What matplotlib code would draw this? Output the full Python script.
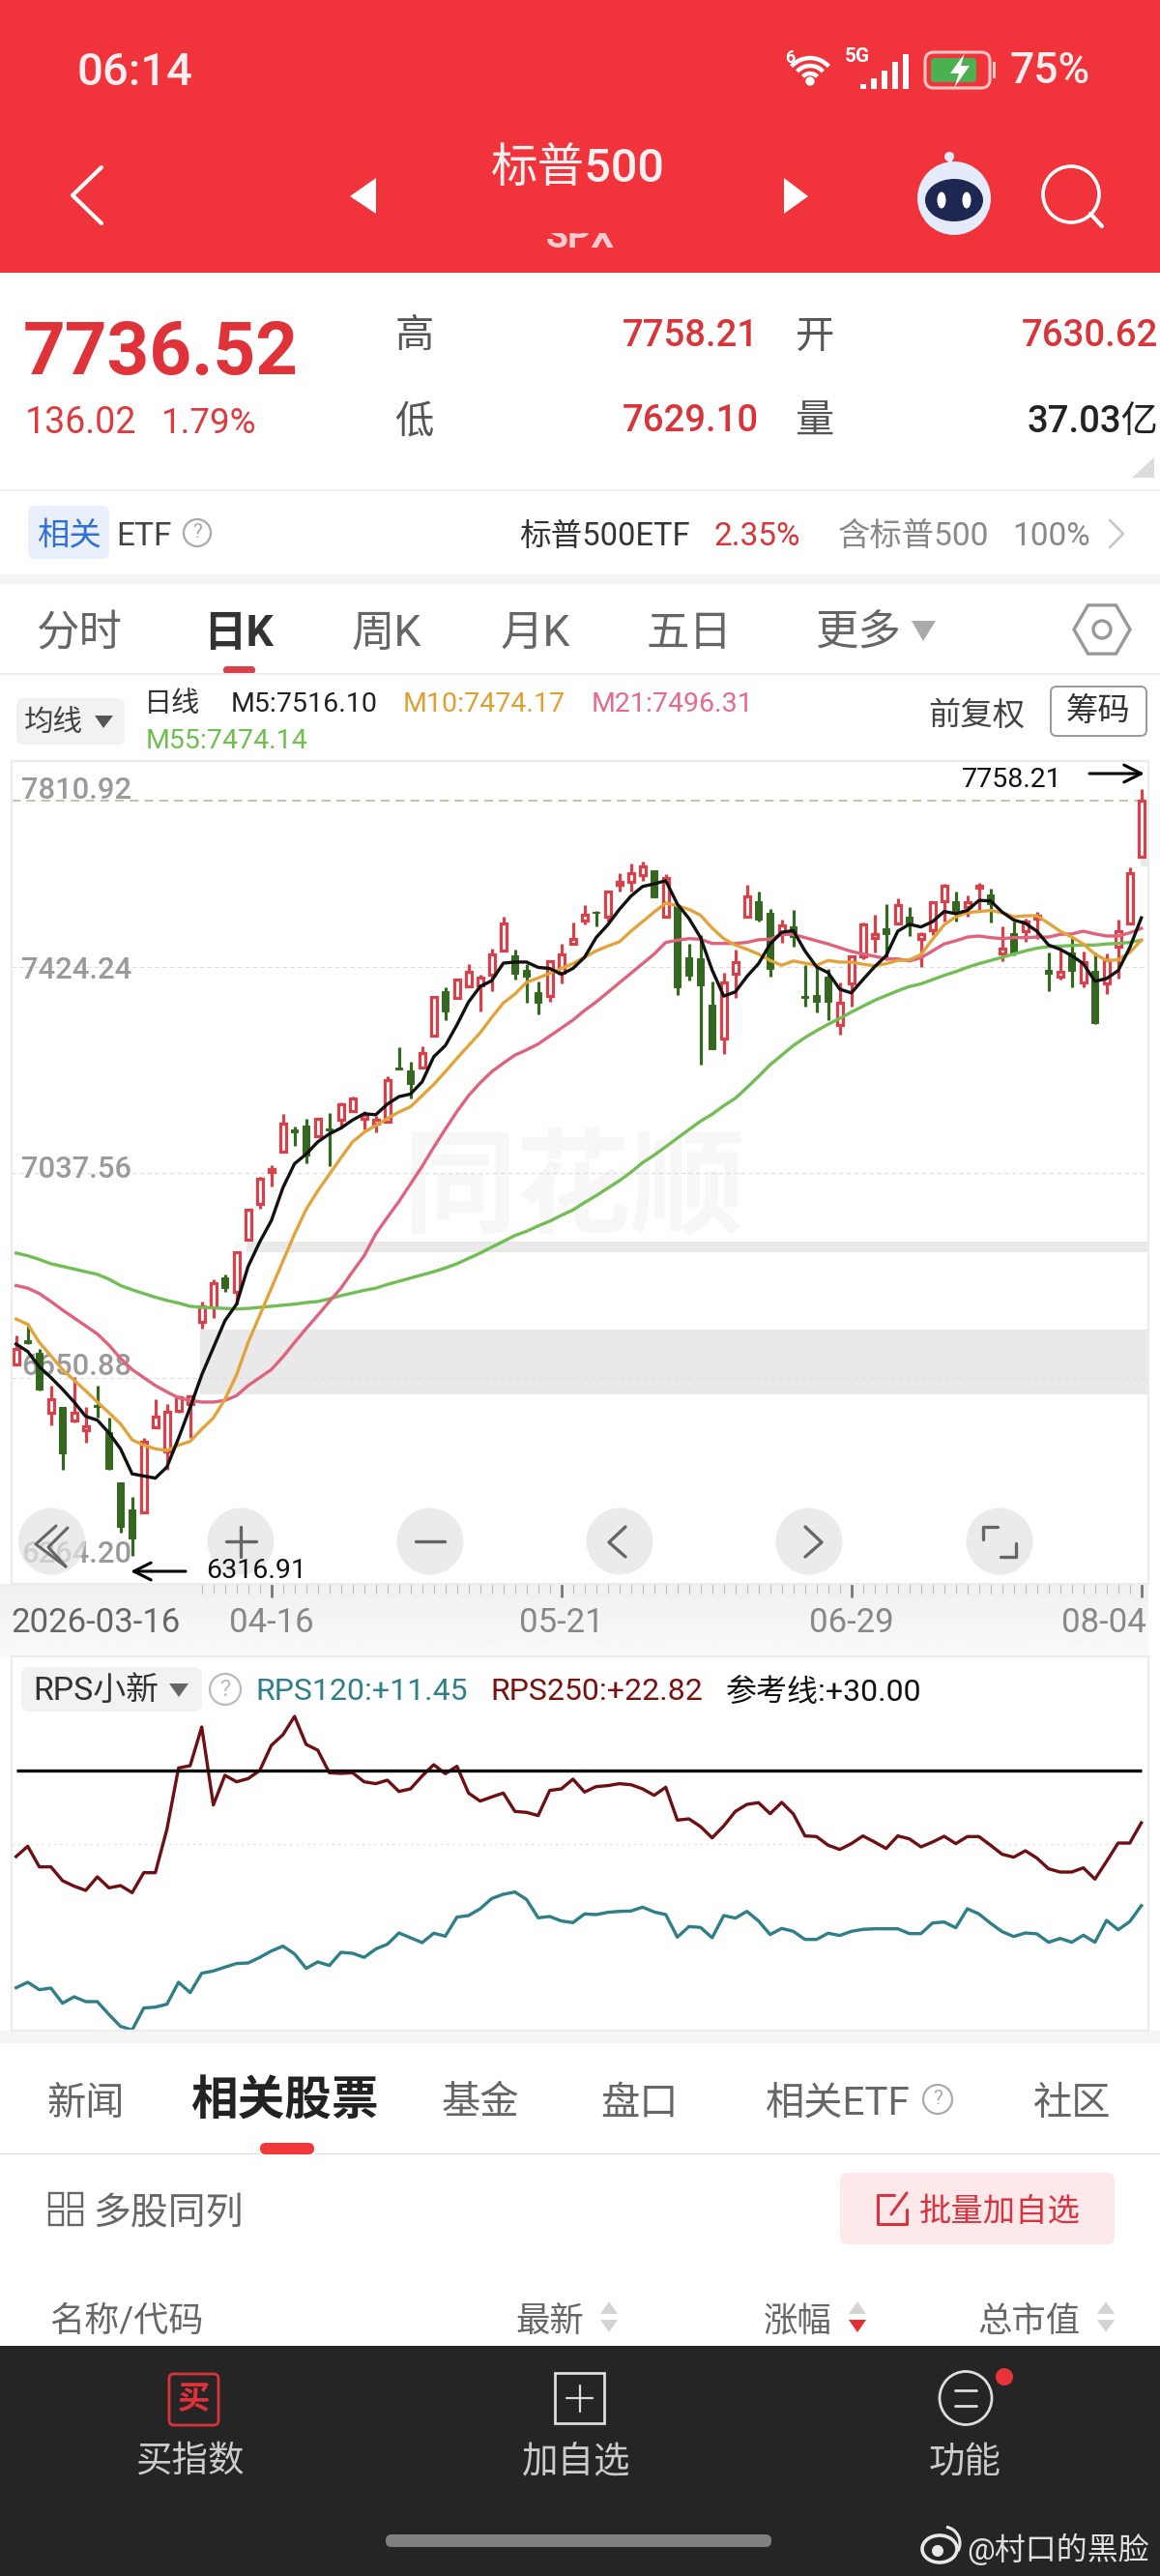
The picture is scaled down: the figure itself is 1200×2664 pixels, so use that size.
import numpy as np
import matplotlib
matplotlib.use('Agg')
import matplotlib.pyplot as plt
from matplotlib.patches import Rectangle, FancyBboxPatch, Circle, Ellipse, Polygon, Arc, RegularPolygon
from matplotlib.transforms import ScaledTranslation

plt.rcParams['font.family'] = ['Roboto', 'Noto Sans CJK SC', 'DejaVu Sans']
plt.rcParams['axes.unicode_minus'] = False

# ---------- data ----------
opens = [6676,6723,6698,6586,6596,6572,6554,6601,6550,6455,6405,6399,6558,6514,6589,6603,6756,6784,6841,6813,
         6912,6978,7039,7077,7119,7125,7105,7121,7136,7153,7139,7129,7133,7235,7229,7235,7295,7379,7365,7387,
         7389,7409,7454,7445,7419,7376,7369,7412,7467,7511,7527,7518,7579,7583,7597,7605,7518,7539,7442,7441,
         7352,7290,7411,7518,7548,7526,7488,7500,7369,7371,7405,7314,7393,7444,7479,7497,7506,7518,7477,7492,
         7548,7548,7536,7572,7560,7450,7488,7491,7515,7418,7406,7451,7395,7417,7393,7462,7506,7630.62]
highs = [6731,6754,6705,6637,6596,6654,6596,6637,6576,6455,6428,6538,6611,6603,6619,6619,6795,6837,6846,6890,
         6970,7029,7052,7147,7123,7138,7141,7149,7170,7180,7153,7143,7219,7273,7246,7274,7369,7385,7402,7429,
         7410,7459,7518,7456,7430,7396,7436,7467,7507,7540,7530,7568,7600,7618,7622,7606,7598,7539,7468,7483,
         7397,7412,7456,7579,7565,7533,7512,7531,7427,7424,7420,7394,7445,7508,7522,7542,7553,7536,7489,7548,
         7580,7565,7559,7582,7571,7500,7509,7515,7527,7451,7460,7479,7453,7451,7450,7512,7611,7758.21]
lows = [6676,6715,6627,6562,6479,6568,6530,6576,6479,6360,6316.91,6399,6558,6479,6586,6538,6744,6764,6813,6790,
        6910,6970,7012,7075,7088,7054,7103,7049,7121,7151,7119,7113,7131,7232,7176,7234,7294,7323,7364,7385,
        7341,7378,7453,7400,7356,7335,7359,7393,7465,7503,7501,7510,7565,7565,7585,7554,7517,7371,7398,7240,
        7269,7260,7365,7517,7510,7406,7470,7462,7350,7339,7324,7296,7350,7439,7451,7436,7504,7482,7423,7484,
        7510,7509,7518,7528,7507,7434,7445,7471,7477,7378,7400,7385,7386,7317,7373,7402,7505,7629.10]
closes = [6705,6717,6630,6611,6509,6586,6560,6597,6481,6372,6349,6532,6579,6587,6615,6617,6786,6830,6820,6888,
          6968,7026,7044,7129,7113,7070,7139,7116,7166,7176,7146,7136,7212,7232,7203,7262,7367,7341,7400,7414,
          7403,7447,7505,7411,7405,7356,7435,7448,7477,7522,7525,7566,7583,7600,7612,7554,7591,7385,7408,7389,
          7269,7395,7433,7556,7513,7421,7502,7480,7365,7359,7359,7356,7444,7503,7486,7486,7540,7506,7486,7545,
          7577,7526,7545,7577,7542,7459,7450,7509,7521,7411,7414,7417,7433,7318,7437,7491,7600.5,7736.52]

m5 = [6715,6701,6672,6652,6630,6606,6579,6572,6548,6518,6471,6467,6463,6484,6538,6596,6657,6708,6759,6790,
      6861,6907,6947,7009,7054,7072,7095,7110,7121,7136,7148,7146,7166,7180,
      7185,7208,7255,7276,7315,7358,7387,7398,7431,7433,7433,7423,7421,7410,7421,7442,7479,7503,7532,7557,
      7575,7580,7586,7542,7515,7479,7418,7369,7377,7406,7430,7467,
      7489,7492,7454,7424,7413,7382,7375,7400,7424,7445,7491,7504,7499,7509,7528,7524,7530,7549,7548,7527,
      7512,7506,7491,7465,7457,7445,7430,7397,7402,7417,7460,7516.10]
m10 = [6762,6752,6718,6693,6667,6647,6627,6606,6586,6565,6535,6525,6518,6515,6525,6532,6555,6576,6611,6657,
       6718,6769,6820,6871,6922,6968,7003,7034,7065,7095,7113,7126,7139,7151,
       7161,7182,7203,7227,7252,7276,7300,7329,7356,7373,7395,7403,7412,7421,7430,7442,7454,7463,7471,7491,
       7509,7527,7544,7539,7532,7521,7497,7477,7465,7457,7448,7436,
       7427,7435,7431,7427,7436,7433,7433,7429,7426,7430,7436,7437,7447,7476,7503,7518,7526,7528,7530,7526,
       7518,7520,7520,7506,7491,7480,7467,7448,7436,7437,7451,7474.17]
m21 = [6825,6820,6810,6795,6779,6764,6749,6734,6713,6688,6667,6652,6637,6625,6614,6609,6606,6606,6609,6618,
       6637,6652,6667,6691,6718,6744,6769,6795,6820,6851,6881,6922,6953,6983,
       7016,7049,7085,7119,7152,7182,7206,7227,7243,7258,7268,7279,7294,7309,7324,7342,7358,7376,7394,7412,
       7430,7448,7470,7474,7477,7476,7468,7468,7468,7470,7475,7476,
       7485,7485,7479,7473,7467,7460,7453,7448,7444,7439,7439,7435,7441,7454,7467,7473,7480,7482,7479,7477,
       7479,7479,7480,7480,7485,7486,7491,7486,7482,7482,7488,7496.31]
m55 = [6886,6881,6874,6866,6861,6856,6851,6846,6837,6825,6817,6810,6803,6797,6792,6786,6784,6783,6782,6781,
       6782,6784,6786,6788,6790,6793,6795,6800,6806,6811,6816,6820,6827,6833,
       6839,6845,6851,6858,6866,6876,6886,6897,6908,6919,6927,6937,6946,6957,6967,6981,6994,7008,7022,7038,
       7056,7070,7086,7102,7118,7134,7147,7163,7177,7197,7218,7240,
       7258,7276,7291,7304,7316,7327,7339,7350,7361,7370,7379,7387,7392,7400,7408,7415,7423,7430,7436,7442,
       7448,7454,7459,7462,7463,7464,7465,7465,7467,7468,7470,7474.14]

rps250 = [18.19,19.6,16.77,16.77,14.87,14.12,13.54,15.4,13.89,14.2,13.23,15.97,15.97,21.95,30.35,30.66,35.97,25.27,29.34,28.45,
          28.89,30,33.45,34.91,37.43,33.58,32.79,29.69,29.6,29.69,28.45,28.19,28.67,27.12,27.48,29.25,30.8,29.56,30.58,26.9,
          25.8,26.37,26.9,24.38,24.25,23.81,27.26,27.48,28.81,27.04,27.79,27.92,28.19,28.05,27.48,26.59,27.7,23.19,23.36,22.3,
          20.75,22.39,24.38,25.35,25.58,24.07,25.62,24.03,21.02,20.93,19.74,19.16,19.96,21.02,20.18,19.29,21.02,20.62,19.51,20.18,
          20.97,19.96,20.93,20.93,19.74,18.5,18.1,18.98,17.97,16.51,16.06,16.06,16.64,15.09,17.52,20.04,20.04,22.82]
rps120 = [0.18,0.93,-0.09,0.13,-1.95,-1.06,-1.73,-1.73,-3.49,-5.13,-5.62,-2.61,-2.48,-2.08,0.93,-0.49,2.17,2.48,3.01,3.5,
          3.58,4.34,5.22,5.89,4.82,2.83,3.72,3.23,5.04,4.91,4.34,5.49,6.15,7.7,7.04,6.37,7.66,7.26,9.87,10.09,
          11.02,12.43,13.01,13.32,12.3,9.78,9.96,9.34,9.12,10.31,10.22,10.53,10.66,10.71,11.24,10.58,10.22,7.12,8.58,8.45,
          7.04,10.09,9.74,10.66,9.34,7.48,8.32,7.92,6.81,6.81,7.66,7.35,7.92,8.19,8.27,8.27,8.27,7.61,7.61,9.07,
          9.2,8.41,11.02,10.31,9.03,7.88,7.21,7.7,7.57,6.42,6.95,6.42,7.39,6.42,9.43,8.14,9.25,11.45]
ref_value = 30.0

price_ticks = [7810.92, 7424.24, 7037.56, 6650.88, 6264.20]
price_label_shift_px = [-30, -4, 3, 12, 30]
date_idx = [0, 22, 47, 72, 97]
date_labels = ['2026-03-16', '04-16', '05-21', '06-29', '08-04']
last_price = 7736.52
high_price = 7758.21
low_price = 6316.91
band_ranges = [(20, 6888, 6907), (16, 6621, 6742), (97, 7612, 7629)]

RED = '#d9404a'
GREEN = '#33691e'
W, H = 1200, 2664

fig = plt.figure(figsize=(12, 26.64), dpi=100, facecolor='white')


def px_axes(z):
    a = fig.add_axes([0, 0, 1, 1], zorder=z)
    a.set_xlim(0, W)
    a.set_ylim(H, 0)
    a.axis('off')
    a.patch.set_alpha(0)
    return a


bg = px_axes(0)
fg = px_axes(10)


def T(a, x, y, s, size, color='#333333', ha='left', va='center', weight='normal', **kw):
    if a in (bg, fg):
        y = y + 8
        if ha == 'left' and ord(s[0]) > 127:
            x = x - 2.5
    return a.text(x, y, s, fontsize=size, color=color, ha=ha, va=va, fontweight=weight, **kw)


def R(a, x0, y0, x1, y1, color, **kw):
    a.add_patch(Rectangle((x0, y0), x1 - x0, y1 - y0, facecolor=color, edgecolor='none', **kw))


def RR(a, x0, y0, x1, y1, face, edge='none', lw=0, rad=8, **kw):
    a.add_patch(FancyBboxPatch((x0 + rad, y0 + rad), x1 - x0 - 2 * rad, y1 - y0 - 2 * rad,
                               boxstyle=f'round,pad={rad},rounding_size={rad}',
                               facecolor=face, edgecolor=edge, linewidth=lw, **kw))


def L(a, xs, ys, color, lw=2.2, **kw):
    a.plot(xs, ys, color=color, lw=lw, solid_capstyle='round', solid_joinstyle='round', **kw)


def TRI(a, pts, color):
    a.add_patch(Polygon(pts, closed=True, facecolor=color, edgecolor='none'))


def Q(a, cx, cy, r=14, color='#aaaaaa', size=15):
    a.add_patch(Circle((cx, cy), r, facecolor='none', edgecolor=color, lw=1.6))
    T(a, cx, cy - 8, '?', size, color, ha='center')


# ---------- header ----------
R(bg, 0, 0, W, 282, '#f1333b')
T(bg, 80, 67, '06:14', 34, '#fbeeee', weight='medium')
for w_ in (52, 36, 20):
    bg.add_patch(Arc((838, 86), w_, w_, theta1=222, theta2=318, color='white', lw=3.2))
bg.add_patch(Circle((838, 84), 4, color='white'))
T(bg, 812, 52, '6', 13, 'white', weight='bold')
T(bg, 874, 50, '5G', 15, 'white', weight='bold')
for i_, h_ in enumerate((5, 11, 19, 28, 36)):
    R(bg, 890 + 11 * i_, 92 - h_, 896 + 11 * i_, 92, 'white')
RR(bg, 957, 54, 1024, 91, 'none', edge='#ffc8c8', lw=2.2, rad=9)
R(bg, 1027, 64, 1030, 81, '#ffc8c8')
RR(bg, 963, 60, 1010, 85, '#4caf50', rad=4)
TRI(bg, [(998, 55), (983, 76), (992, 76), (987, 91), (1003, 68), (994, 68)], 'white')
T(bg, 1045, 66, '75%', 32, '#fbeeee', weight='medium')
L(bg, [105, 75, 105], [173, 202, 231], 'white', lw=3)
TRI(bg, [(389, 184), (362, 203), (389, 221)], 'white')
TRI(bg, [(811, 184), (836, 203), (811, 221)], 'white')
T(bg, 598, 168, '标普500', 35, '#fdf0f0', ha='center', weight='medium')
T(bg, 600, 237, 'SPX', 27, 'white', ha='center', alpha=0.75, weight='bold')
R(bg, 540, 225, 660, 241, '#f1333b', zorder=5)
bg.add_patch(Circle((987, 205), 38, facecolor='#e4ebfb', edgecolor='none'))
bg.add_patch(Ellipse((987, 207), 60, 44, facecolor='#1d2750', edgecolor='none'))
bg.add_patch(Ellipse((974, 207), 9, 17, facecolor='white', edgecolor='none'))
bg.add_patch(Ellipse((1000, 207), 9, 17, facecolor='white', edgecolor='none'))
L(bg, [985, 982], [160, 170], '#e4ebfb', lw=2.5)
bg.add_patch(Circle((982, 162), 5, facecolor='#e4ebfb', edgecolor='none'))
bg.add_patch(Circle((1108, 201), 29, facecolor='none', edgecolor='white', lw=2.6))
L(bg, [1128, 1140], [221, 234], 'white', lw=3)

# ---------- quote ----------
T(bg, 24, 358, '7736.52', 55, '#e03239', weight='bold')
T(bg, 26, 430, '136.02', 27, '#e03a3f')
T(bg, 167, 430, '1.79%', 26.5, '#e03a3f')
T(bg, 411, 339, '高', 29, '#555555')
T(bg, 411, 428, '低', 29, '#555555')
T(bg, 644, 340, '7758.21', 27.5, '#d8343a', weight='medium')
T(bg, 644, 428, '7629.10', 27.5, '#d8343a', weight='medium')
T(bg, 825, 340, '开', 29, '#555555')
T(bg, 825, 428, '量', 29, '#555555')
T(bg, 1198, 340, '7630.62', 27.5, '#d8343a', ha='right', weight='medium')
T(bg, 1198, 428, '37.03亿', 27.5, '#222222', ha='right', weight='medium')
TRI(bg, [(1194, 473), (1194, 494), (1171, 494)], '#dcdcdc')
R(bg, 0, 506, W, 508, '#eeeeee')

# ---------- ETF row ----------
RR(bg, 29, 523, 113, 578, '#e9effb', rad=7)
T(bg, 71, 547, '相关', 24, '#2f6fd6', ha='center')
T(bg, 120, 547, 'ETF', 24, '#444444')
Q(bg, 204, 551)
T(bg, 540, 547, '标普500ETF', 23.5, '#333333')
T(bg, 739, 547, '2.35%', 24, '#d8343a')
T(bg, 869, 547, '含标普500', 24, '#888888')
T(bg, 1047, 547, '100%', 24, '#888888')
L(bg, [1148, 1162, 1148], [538, 552, 566], '#c4c4c4', lw=1.8)
R(bg, 0, 594, W, 604, '#f5f5f5')

# ---------- period tabs ----------
for x_, s_ in ((40, '分时'), (366, '周K'), (520, '月K'), (671, '五日'), (846, '更多')):
    T(bg, x_, 648, s_, 32, '#666666')
T(bg, 213, 648, '日K', 32, '#333333', weight='bold')
TRI(bg, [(943, 642), (968, 642), (955, 663)], '#aaaaaa')
bg.add_patch(RegularPolygon((1140, 651), 6, radius=29, orientation=np.pi / 6, facecolor='none',
                            edgecolor='#999999', lw=2.4))
bg.add_patch(Circle((1140, 651), 9, facecolor='none', edgecolor='#999999', lw=2.4))
RR(bg, 231, 689, 264, 697, RED, rad=4)
R(bg, 0, 696, W, 698, '#eeeeee')

# ---------- MA legend ----------
RR(bg, 17, 722, 129, 770, '#f2f2f2', rad=7)
T(bg, 27, 739, '均线', 22, '#444444')
TRI(bg, [(98, 740), (117, 740), (107, 753)], '#555555')
T(bg, 151, 720, '日线', 21, '#333333')
T(bg, 239, 720, 'M5:7516.10', 20.5, '#222222')
T(bg, 417, 720, 'M10:7474.17', 20.5, '#e0a030')
T(bg, 612, 720, 'M21:7496.31', 20.5, '#e8698a')
T(bg, 151, 759, 'M55:7474.14', 20.5, '#6fbf4f')
T(bg, 963, 733, '前复权', 24, '#444444')
RR(bg, 1087, 710, 1186, 761, 'white', edge='#999999', lw=1.4, rad=6)
T(bg, 1136, 728, '筹码', 24, '#333333', ha='center')

# background between panels
grad = np.linspace(0.94, 0.98, 60).reshape(-1, 1)
bg.imshow(grad, extent=(0, 1188, 1713, 1638), cmap='gray', vmin=0, vmax=1, aspect='auto', zorder=0.5)
bg.set_xlim(0, W)
bg.set_ylim(H, 0)
R(bg, 0, 2100, W, 2113, '#f5f5f5')

# ---------- main chart ----------
xleft = (12 - 16.7) / 12
xright = (1188 - 16.7) / 12
ax = fig.add_axes([12 / W, (H - 1638) / H, 1176 / W, 851 / H], zorder=1)
ax.set_xlim(xleft, xright)
ax.set_ylim(price_ticks[-1], price_ticks[0])
for s in ax.spines.values():
    s.set_color('#ececec')
    s.set_linewidth(1.6)
ax.set_yticks([])
ax.set_xticks(date_idx)
ax.set_xticklabels(date_labels, fontsize=25, color='#888888')
ax.set_xticks(range(16, 98), minor=True)
ax.tick_params(axis='x', which='minor', length=7, width=0.8, color='#bdbdbd', direction='out')
ax.tick_params(axis='x', which='major', length=10, width=2, color='#777777', direction='out', pad=7)
ax.get_xticklines()[0].set_visible(False)
tl = ax.get_xticklabels()
tl[0].set_ha('left')
tl[0].set_color('#666666')
tl[0].set_transform(tl[0].get_transform() + ScaledTranslation(-0.05, 0, fig.dpi_scale_trans))
tl[-1].set_ha('right')
tl[-1].set_transform(tl[-1].get_transform() + ScaledTranslation(0.05, 0, fig.dpi_scale_trans))

T(ax, 48, 7000, '同花顺', 85, '#f7f7f7', ha='center', weight='bold', zorder=0.5)

for start, lo, hi in band_ranges:
    ax.add_patch(Rectangle((start - 0.1, lo), xright - start + 0.1, hi - lo, facecolor='#e9e9e9',
                           edgecolor='none', zorder=0.6))
for v in price_ticks[1:-1]:
    ax.axhline(v, color='#dddddd', lw=0.8, ls=(0, (4, 3)), zorder=0.7)
ax.axhline(last_price, color='#b8b090', lw=1.1, ls=(0, (6, 4)), zorder=0.7)

for v, dy in zip(price_ticks, price_label_shift_px):
    ax.annotate(f'{v:.2f}', xy=(0, v), xycoords=ax.get_yaxis_transform(), xytext=(10, dy),
                textcoords='offset pixels', fontsize=22.3, color='#9a9a9a', fontweight='medium',
                ha='left', va='center', zorder=0.8, annotation_clip=False)

xs = list(range(len(closes)))
for i in xs:
    up = closes[i] >= opens[i]
    c = RED if up else GREEN
    ax.vlines(i, lows[i], highs[i], color=c, lw=2.3, zorder=2)
    top, bot = max(opens[i], closes[i]), min(opens[i], closes[i])
    if up:
        ax.bar(i, top - bot, bottom=bot, width=0.48, facecolor='white', edgecolor=c, linewidth=2.3, zorder=2.5)
    else:
        ax.bar(i, top - bot, bottom=bot, width=0.6, facecolor=c, edgecolor=c, linewidth=0.7, zorder=2.5)

ax.plot(xs, m55, color='#72bd55', lw=2.4, zorder=3)
ax.plot(xs, m21, color='#e0637d', lw=2.4, zorder=3.1)
ax.plot(xs, m10, color='#e2a43a', lw=2.4, zorder=3.2)
ax.plot(xs, m5, color='#111111', lw=2.4, zorder=3.3)

# ---------- RPS panel ----------
rps_lo, rps_hi = -5.71, 45.62
rps = fig.add_axes([12 / W, (H - 2100) / H, 1176 / W, (2100 - 1713.3) / H], zorder=1)
rps.set_xlim(xleft, xright)
rps.set_ylim(rps_lo, rps_hi)
rps.set_xticks([])
rps.set_yticks([])
for s in rps.spines.values():
    s.set_color('#ececec')
    s.set_linewidth(1.6)
rps.axhline((rps_lo + rps_hi) / 2, color='#e2e2e2', lw=1, ls=(0, (1.5, 3)), zorder=1)
rps.plot(xs, [ref_value] * len(xs), color='#0a0a0a', lw=2.4, zorder=3, solid_capstyle='butt')
rps.plot(xs, rps250, color='#6e0f14', lw=2.4, zorder=2)
rps.plot(xs, rps120, color='#2f7f87', lw=2.4, zorder=2)

RR(fg, 22, 1724, 209, 1770, '#f2f2f2', rad=8)
T(fg, 34, 1741, 'RPS小新', 24.4, '#333333')
TRI(fg, [(175, 1741), (195, 1741), (185, 1755)], '#666666')
Q(fg, 233, 1747, r=16, color='#bbbbbb', size=17)
T(fg, 264, 1742, 'RPS120:+11.45', 23, '#2f7f87')
T(fg, 507, 1742, 'RPS250:+22.82', 23, '#7a1010')
T(fg, 753, 1742, '参考线:+30.00', 23, '#111111')

# ---------- overlays on the main chart ----------
for cx in (53.5, 249, 445, 641, 837, 1034):
    fg.add_patch(Ellipse((cx, 1594), 69, 69, facecolor='#e4e4e4', edgecolor='none', alpha=0.72))
ic = '#666666'
L(fg, [58, 37, 68], [1578, 1597, 1620], ic, lw=2.2)
L(fg, [70, 50, 68], [1580, 1600, 1620], ic, lw=2.2)
L(fg, [234, 265], [1594, 1594], ic, lw=2.4)
L(fg, [249, 249], [1579, 1610], ic, lw=2.4)
L(fg, [430, 460], [1594, 1594], ic, lw=2.4)
L(fg, [647, 630, 647], [1579, 1595, 1610], ic, lw=2.4)
L(fg, [833, 850, 833], [1579, 1595, 1610], ic, lw=2.4)
L(fg, [1017, 1017, 1032], [1592, 1579, 1579], ic, lw=2.4)
L(fg, [1035, 1051, 1051], [1610, 1610, 1596], ic, lw=2.4)

fg.annotate('', xy=(1184, 800), xytext=(1127, 800),
            arrowprops=dict(arrowstyle='->', color='black', lw=2.2, mutation_scale=32, shrinkA=0, shrinkB=0))
T(fg, 995, 799, f'{high_price:.2f}', 20.5, '#111111')
fg.annotate('', xy=(135, 1625), xytext=(192, 1625),
            arrowprops=dict(arrowstyle='->', color='black', lw=2.2, mutation_scale=32, shrinkA=0, shrinkB=0))
T(fg, 213, 1617, f'{low_price:.2f}', 20.5, '#111111')

# ---------- lower tabs ----------
R(bg, 0, 2113, W, 2426, 'white')
for x_, s_ in ((51, '新闻'), (459, '基金'), (624, '盘口'), (794, '相关ETF'), (1071, '社区')):
    T(bg, x_, 2167, s_, 29, '#666666')
T(bg, 200, 2167, '相关股票', 35, '#222222', weight='bold')
Q(bg, 970, 2171, r=15, color='#aaaaaa', size=15)
RR(bg, 269, 2216, 325, 2228, '#f2383a', rad=6)
R(bg, 0, 2227, 269, 2228, '#dddddd')
R(bg, 325, 2227, W, 2228, '#dddddd')

for gx in (51, 71):
    for gy in (2268, 2287):
        bg.add_patch(Rectangle((gx, gy), 14, 14, facecolor='none', edgecolor='#666666', lw=1.7))
T(bg, 99, 2281, '多股同列', 28, '#666666')
RR(bg, 869, 2247, 1153, 2321, '#fde8ea', rad=8)
L(bg, [925, 908, 908, 938, 938], [2270, 2270, 2300, 2300, 2285], '#d8343f', lw=2.2)
L(bg, [922, 938], [2290, 2268], '#d8343f', lw=2.2)
T(bg, 953, 2280, '批量加自选', 24, '#d8343f')

T(bg, 54, 2393, '名称/代码', 26, '#666666')
T(bg, 536, 2393, '最新', 25.5, '#666666')
T(bg, 792, 2393, '涨幅', 25.5, '#666666')
T(bg, 1014, 2393, '总市值', 25.5, '#666666')
for x0, dn in ((621, '#d4d4d4'), (878, '#e52d35'), (1135, '#d4d4d4')):
    TRI(bg, [(x0, 2393), (x0 + 18, 2393), (x0 + 9, 2380)], '#d4d4d4')
    TRI(bg, [(x0, 2399), (x0 + 18, 2399), (x0 + 9, 2412)], dn)

# ---------- footer ----------
R(fg, 0, 2426, W, H, '#252525')
RR(fg, 175, 2455, 226, 2508, 'none', edge='#d8343a', lw=2, rad=5)
T(fg, 200.5, 2473, '买', 24, '#e03239', ha='center', weight='bold')
T(fg, 143, 2537, '买指数', 27, '#cccccc')
fg.add_patch(Rectangle((574, 2454), 51, 52, facecolor='none', edgecolor='#dddddd', lw=2))
L(fg, [586, 613], [2480, 2480], '#dddddd', lw=1.6)
L(fg, [599.5, 599.5], [2467, 2494], '#dddddd', lw=1.6)
T(fg, 542, 2538, '加自选', 27, '#cccccc')
fg.add_patch(Ellipse((999, 2480), 54, 55, facecolor='none', edgecolor='#dddddd', lw=2))
L(fg, [988, 1010], [2472, 2472], '#dddddd', lw=2)
L(fg, [988, 1010], [2488, 2488], '#dddddd', lw=2)
fg.add_patch(Circle((1039, 2458), 9, facecolor='#e8333a', edgecolor='none'))
T(fg, 963, 2538, '功能', 27, '#cccccc')
RR(fg, 399, 2621, 798, 2634, '#808080', rad=6)
fg.add_patch(Ellipse((972, 2636), 36, 28, facecolor='none', edgecolor='#e8e8e8', lw=2.6))
fg.add_patch(Circle((970, 2638), 6, facecolor='#e8e8e8', edgecolor='none'))
fg.add_patch(Arc((976, 2630), 34, 34, theta1=280, theta2=30, color='#e8e8e8', lw=2.2))
T(fg, 1000, 2628, '@村口的黑脸', 23, '#e0e0e0')

fig.savefig('out.png', dpi=100)
